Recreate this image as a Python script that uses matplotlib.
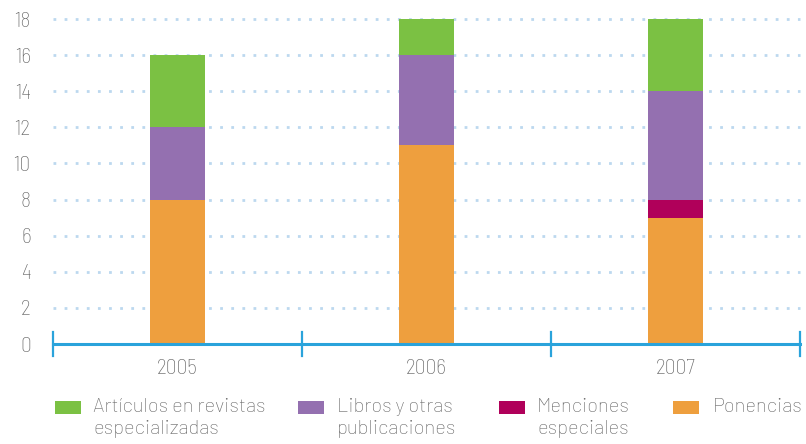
import numpy as np
import matplotlib
matplotlib.use('Agg')
import matplotlib.pyplot as plt
from matplotlib.patches import Rectangle

## data
years       = ['2005', '2006', '2007']
ponencias   = [8, 11, 7]
menciones   = [0, 0, 1]
libros      = [4, 5, 6]
articulos   = [4, 2, 4]

labels = ['Artículos en revistas\nespecializadas', 'Libros y otras\npublicaciones',
          'Menciones\nespeciales', 'Ponencias']
colors = ['#7bc143', '#9470b0', '#b0005a', '#ee9f3e']

plt.rcParams['font.family'] = ['Barlow Semi Condensed', 'Roboto Condensed', 'DejaVu Sans']
plt.rcParams['font.weight'] = 'light'
legend_family = ['Barlow', 'Roboto', 'DejaVu Sans']

txtcol  = '#666666'
axcol   = '#2aa3db'
gridcol = '#bcd8ef'

W, H = 806, 444
fig = plt.figure(figsize=(W/100, H/100), dpi=100)
ax = fig.add_axes([53/W, 1-344/H, 747/W, 325/H])

x = np.arange(len(years))
w = 0.217
bottom = np.zeros(len(years))
for vals, col in [(ponencias, colors[3]), (menciones, colors[2]),
                  (libros, colors[1]), (articulos, colors[0])]:
    ax.bar(x, vals, w, bottom=bottom, color=col, zorder=3)
    bottom += np.array(vals)

ax.set_xlim(-0.5, 2.5)
ax.set_ylim(0, 18)
ax.set_yticks(np.arange(0, 19, 2))
for yv in np.arange(2, 19, 2):
    ax.axhline(yv, color=gridcol, lw=2.0, ls=(0, (1, 3)), solid_capstyle='butt',
               dash_capstyle='butt', zorder=1, clip_on=False)

for s in ['top', 'right', 'left']:
    ax.spines[s].set_visible(False)
ax.spines['bottom'].set_color(axcol)
ax.spines['bottom'].set_linewidth(2.2)
ax.spines['bottom'].set_zorder(4)

# boundary ticks on the x-axis
for xb in [-0.5, 0.5, 1.5, 2.5]:
    ax.plot([xb, xb], [-0.65, 0.65], color=axcol, lw=1.6, clip_on=False, zorder=4)

ax.set_xticks(x)
ax.set_xticklabels(years)
ax.tick_params(axis='x', length=0, pad=11, labelsize=15.5, labelcolor=txtcol)
ax.tick_params(axis='y', length=0, pad=16, labelsize=15.5, labelcolor=txtcol)

## legend, drawn by hand so the box lines up with the first text line
sq_x  = [55, 298, 499, 673]
txt_x = [93, 337, 537, 713]
for sx, tx, col, lab in zip(sq_x, txt_x, colors, labels):
    fig.add_artist(Rectangle((sx/W, 1-414/H), 26/W, 13/H, transform=fig.transFigure,
                             facecolor=col, edgecolor='none'))
    fig.text(tx/W, 1-398/H, lab, ha='left', va='top', fontsize=14.5, color=txtcol,
             family=legend_family, weight='light', linespacing=1.3)

fig.savefig('out.png', dpi=100)
